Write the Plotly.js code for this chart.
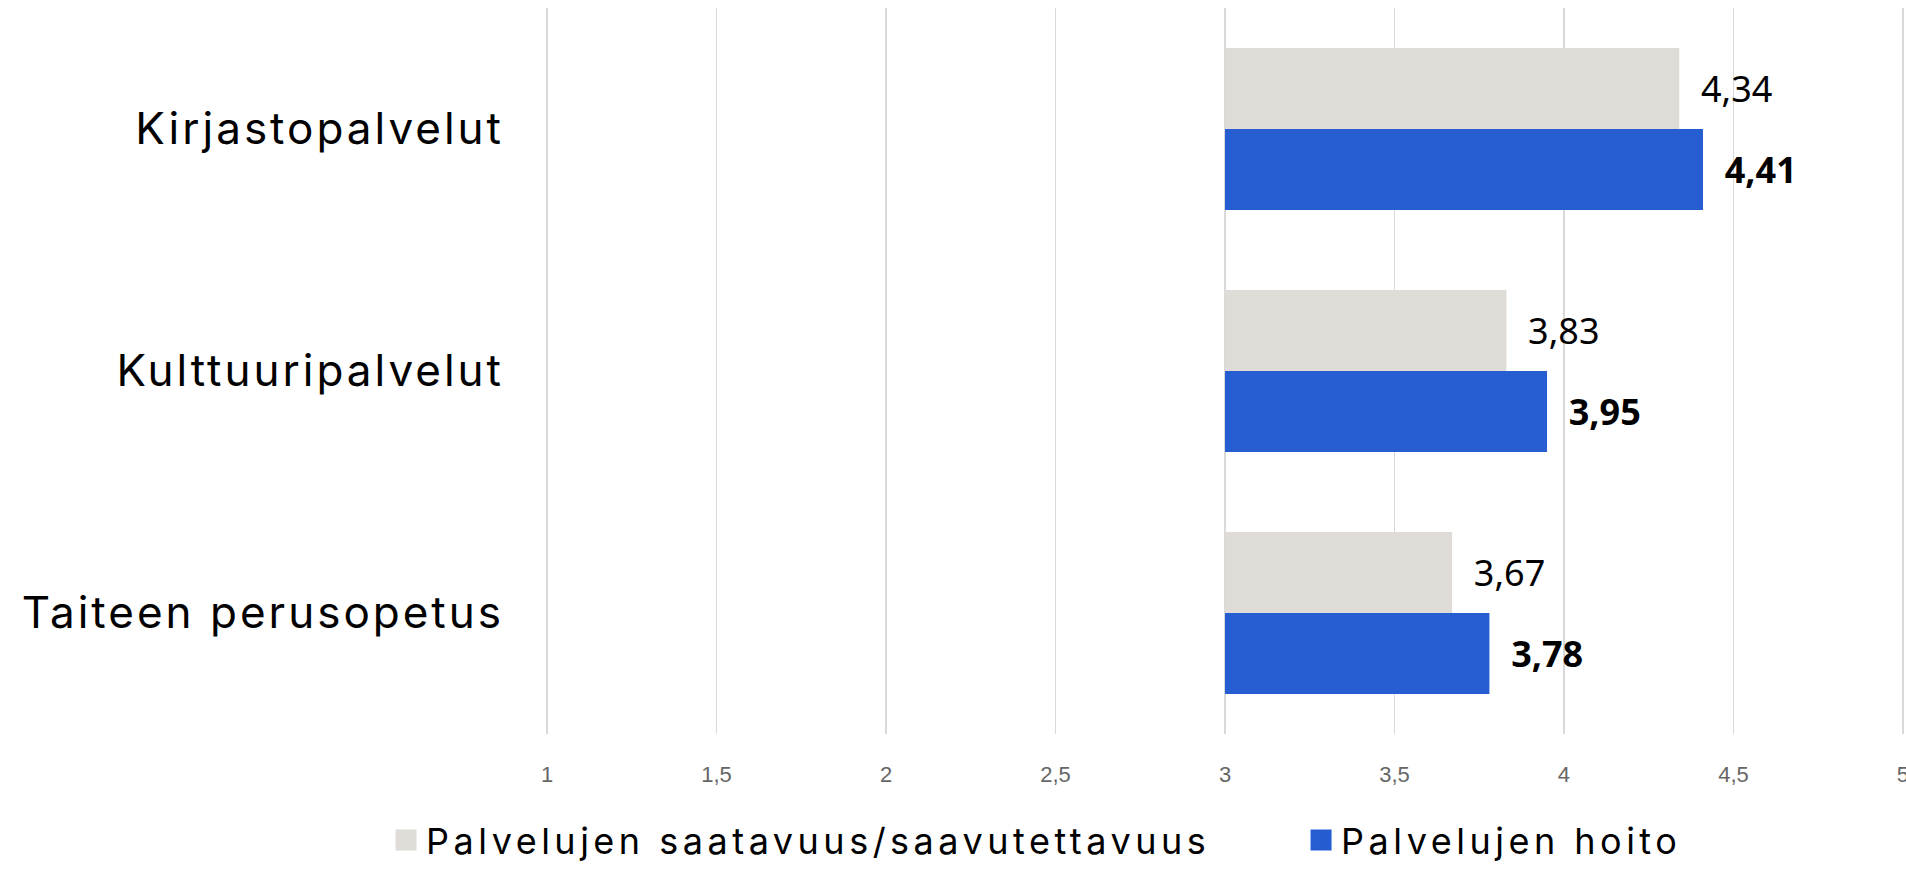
<!DOCTYPE html>
<html>
<head>
<meta charset="utf-8">
<script src="https://cdn.plot.ly/plotly-3.0.1.min.js"></script>
<style>
html,body{margin:0;padding:0;background:#fff;}
#chart{width:1906px;height:872px;}
.legendtext, .infolayer g[class^="legend"] text{letter-spacing:4.5px;}
.ytick text{letter-spacing:3px;}
</style>
</head>
<body>
<div id="chart"></div>
<script>
const categories = ["Kirjastopalvelut", "Kulttuuripalvelut", "Taiteen perusopetus"];
const seriesNames = ["Palvelujen saatavuus/saavutettavuus", "Palvelujen hoito"];
const saatavuus = [4.34, 3.83, 3.67];
const hoito = [4.41, 3.95, 3.78];
const tickVals = [1, 1.5, 2, 2.5, 3, 3.5, 4, 4.5, 5];
const tickText = ["1", "1,5", "2", "2,5", "3", "3,5", "4", "4,5", "5"];
const baseValue = 3;

const FONT = "Noto Sans, sans-serif";
const LFONT = "Inter, sans-serif";
const fmt = v => "\u00a0\u00a0" + v.toFixed(2).replace(".", ",");
const colors = ["#dfdbd7", "#265ed1"];

function barTrace(vals, name, color, bold) {
  return {
    type: "bar", orientation: "h",
    y: categories, x: vals.map(v => v - baseValue), base: baseValue,
    name: name, showlegend: false,
    marker: {color: color},
    text: vals.map(fmt), textposition: "outside", constraintext: "none",
    cliponaxis: false,
    textfont: {family: FONT, size: 36, color: "#000", weight: bold ? "bold" : "normal"},
    hoverinfo: "skip"
  };
}
function legendTrace(name, color, legendId) {
  return {
    type: "scatter", mode: "markers", x: [null], y: [null], name: name,
    legend: legendId,
    marker: {symbol: "square", size: 16, color: color, line: {color: color, width: 5}},
    showlegend: true
  };
}

const data = [
  barTrace(saatavuus, seriesNames[0], colors[0], false),
  barTrace(hoito, seriesNames[1], colors[1], true),
  legendTrace(seriesNames[0], colors[0], "legend"),
  legendTrace(seriesNames[1], colors[1], "legend2")
];

const legendFont = {family: LFONT, size: 36, color: "#000"};
const layout = {
  width: 1906, height: 872,
  margin: {l: 546, r: 2, t: 8, b: 132},
  paper_bgcolor: "#fff", plot_bgcolor: "#fff",
  barmode: "group", bargap: 0.33, bargroupgap: 0,
  font: {family: FONT, color: "#000"},
  xaxis: {
    range: [0.997, 5.003], tickvals: tickVals, ticktext: tickText,
    showgrid: true, gridcolor: "#d9d9d9", gridwidth: 1.5,
    zeroline: false, showline: false, ticks: "",
    tickfont: {family: "Liberation Sans, Arial, sans-serif", size: 22, color: "#666"},
    ticklabelstandoff: 25, ticklabeloverflow: "allow"
  },
  yaxis: {
    type: "category", autorange: "reversed",
    showgrid: false, zeroline: false, showline: false, ticks: "",
    tickfont: {family: LFONT, size: 44, color: "#000"},
    ticklabelstandoff: 41
  },
  showlegend: true,
  legend: {
    orientation: "h", x: -0.1178, xanchor: "left", y: -0.146, yanchor: "middle",
    font: legendFont, itemclick: false, itemdoubleclick: false,
    entrywidth: 800, entrywidthmode: "pixels"
  },
  legend2: {
    orientation: "h", x: 0.556, xanchor: "left", y: -0.146, yanchor: "middle",
    font: legendFont, itemclick: false, itemdoubleclick: false,
    entrywidth: 420, entrywidthmode: "pixels"
  }
};

Plotly.newPlot("chart", data, layout, {displayModeBar: false, staticPlot: true});
</script>
</body>
</html>
